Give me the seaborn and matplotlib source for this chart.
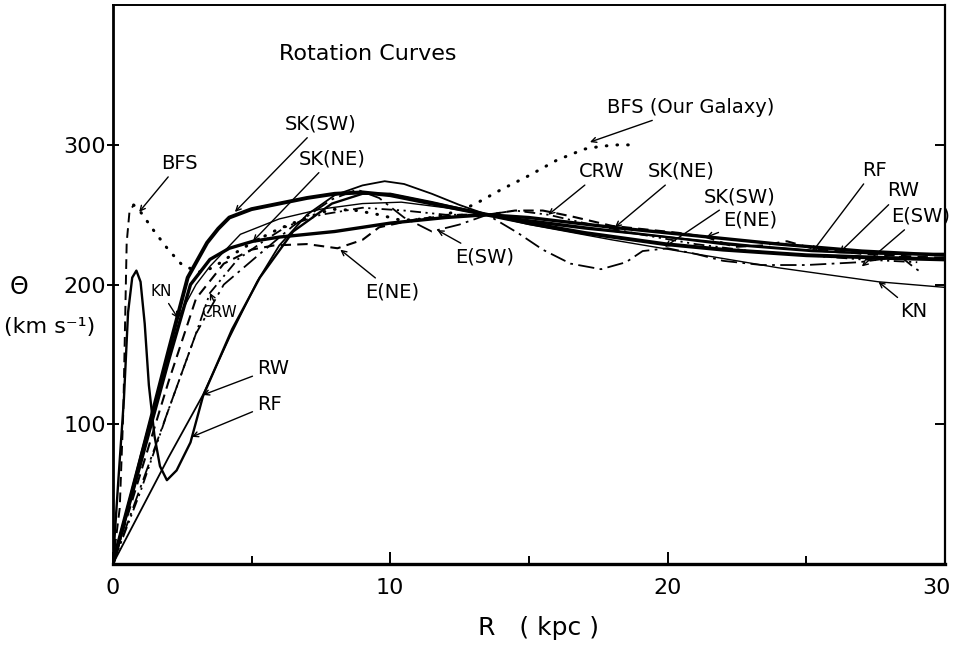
import matplotlib
matplotlib.use("Agg")
import matplotlib.pyplot as plt
import matplotlib.transforms as mtransforms
import seaborn as sns

sns.set_theme(style="white")
plt.rcParams['font.family'] = ['DejaVu Sans']
plt.rcParams['text.color'] = 'black'
plt.rcParams['axes.labelcolor'] = 'black'
plt.rcParams['xtick.color'] = 'black'
plt.rcParams['ytick.color'] = 'black'

# ---------------- data (R in kpc, Theta in km/s) ----------------
sk_sw_r = [0, 1, 2, 2.7, 3.4, 3.8, 4.2, 5, 6, 7, 8, 9, 10, 11, 12, 13.5, 15, 17, 19.9, 22, 25, 28, 30]
sk_sw_v = [0, 75, 152, 205, 230, 240, 248, 254, 258, 262, 265, 266, 264, 260, 256, 250, 244, 237, 229, 225, 221, 219, 218]

sk_ne_r = [0, 1, 2, 2.8, 3.5, 4.2, 5.05, 6, 8, 10, 12, 13.5, 15, 18, 21, 24, 27, 30]
sk_ne_v = [0, 72, 145, 200, 218, 226, 231, 234, 238, 244, 248, 250, 248, 241, 235, 229, 224, 221]

kn_r = [0, 1, 2.35, 3, 3.5, 4.6, 6, 7.5, 9, 10.4, 12, 13.5, 15, 18, 21, 24, 27.6, 30]
kn_v = [0, 78, 176, 200, 213, 236, 247, 254, 258, 259, 255, 250, 243, 232, 222, 212, 202, 198]

rw_r = [0, 1, 2, 3.25, 4.2, 5.2, 6, 7, 8, 9, 9.8, 10.5, 11.5, 12.5, 13.5, 15, 17, 20, 23, 26.2, 28, 30]
rw_v = [0, 38, 76, 121, 162, 202, 228, 250, 264, 271, 274, 272, 265, 257, 250, 245, 240, 234, 228, 223, 222, 221]

rf_r = [0, 0.2, 0.4, 0.55, 0.7, 0.85, 1.0, 1.15, 1.3, 1.5, 1.7, 1.95, 2.3, 2.8, 3.25, 4.3, 5.3,
        6.5, 7.9, 9, 10, 11.5, 13.5, 15, 17, 20, 22, 25.2, 28, 30]
rf_v = [0, 60, 118, 180, 205, 210, 202, 172, 128, 92, 70, 60, 67, 87, 120, 168, 205,
        238, 258, 265, 265, 259, 250, 246, 241, 234, 229, 224, 222, 222]

e_ne_r = [0, 1, 2, 3, 4, 5, 5.8, 7, 8.1, 9, 9.6, 11, 12.5, 13.5, 14.5, 15.5, 16.5, 18, 20.4, 21.4,
          22.4, 23.4, 24.3, 25.2, 27, 30]
e_ne_v = [0, 65, 130, 190, 215, 225, 228, 229, 226, 232, 241, 247, 250, 250, 253, 253, 249, 242, 237, 234,
          227, 228, 231, 226, 222, 219]

e_sw_r = [0, 1, 2, 3, 4, 5.3, 6.5, 7.9, 8.8, 9.6, 10.5, 11.5, 12.5, 13.5, 14.6, 15.5, 16.5, 17.6,
          18.5, 19.1, 20, 21, 22, 23.4, 25, 26.9, 28.4, 28.9, 29.2]
e_sw_v = [0, 55, 110, 165, 200, 222, 242, 261, 268, 262, 248, 238, 243, 250, 237, 225, 215, 211,
          216, 224, 226, 222, 217, 214, 214, 216, 220, 212, 208]

crw_r = [0, 1, 2, 3, 3.5, 4.5, 5.5, 6.3, 7.5, 9, 10.5, 12, 13.5, 14.5, 15.7, 17, 19, 21, 23, 25, 27, 29]
crw_v = [0, 52, 110, 165, 194, 218, 232, 242, 250, 255, 253, 250, 250, 253, 250, 244, 236, 229, 224, 221, 218, 216]

bfs_in_r = [0, 0.25, 0.38, 0.45, 0.5, 0.6, 0.75]
bfs_in_v = [0, 40, 110, 180, 230, 252, 257]

bfs_r = [0.75, 1.0, 1.5, 2.0, 2.5, 3.1, 3.6, 4.2, 5.1, 6.0, 7.0, 7.9, 8.8, 9.6, 10.4, 11.2, 12.0,
         13.0, 14.0, 15.0, 16.0, 17.0, 17.6, 18.2, 18.6]
bfs_v = [257, 252, 238, 225, 214, 209, 212, 220, 231, 240, 248, 254, 253, 250, 246, 247, 250,
         257, 268, 278, 289, 297, 299, 300, 300]

x_ticks = [0, 10, 20, 30]
x_minor = [5, 15, 25]
y_ticks = [100, 200, 300]

# ---------------- figure ----------------
fig = plt.figure(figsize=(9.56, 6.49), dpi=100)
fig.patch.set_facecolor("white")
ax = fig.add_axes([0.118, 0.131, 0.8705, 0.861])
ax.set_facecolor("white")

def draw(r, v, lw, ls="-", cap="butt"):
    sns.lineplot(x=r, y=v, ax=ax, sort=False, estimator=None, color="black",
                 linewidth=lw, linestyle=ls, dash_capstyle=cap, solid_capstyle="round")

draw(sk_sw_r, sk_sw_v, 2.8)
draw(sk_ne_r, sk_ne_v, 2.4)
draw(kn_r, kn_v, 1.0)
draw(rw_r, rw_v, 1.3)
draw(rf_r, rf_v, 1.7)
draw(e_ne_r, e_ne_v, 1.5, (0, (5, 3)))
draw(e_sw_r, e_sw_v, 1.3, (0, (9, 3, 1.5, 3)))
draw(crw_r, crw_v, 1.3, (0, (6, 2.5, 1.2, 2.5, 1.2, 2.5)))
draw(bfs_in_r, bfs_in_v, 1.4, (0, (5, 3)))
draw(bfs_r, bfs_v, 2.2, (0, (0.2, 3.3)), cap="round")

ax.set_xlim(0, 30)
ax.set_ylim(0, 400)
ax.set_xlabel("")
ax.set_ylabel("")
ax.set_xticks(x_ticks)
ax.set_xticks(x_minor, minor=True)
ax.set_yticks(y_ticks)
ax.set_xticklabels([str(t) for t in x_ticks])
ax.set_yticklabels([str(t) for t in y_ticks])

for s in ["left", "bottom", "right", "top"]:
    ax.spines[s].set_visible(True)
    ax.spines[s].set_color("black")
ax.spines["left"].set_linewidth(2.0)
ax.spines["bottom"].set_linewidth(2.4)
ax.spines["right"].set_linewidth(1.6)
ax.spines["top"].set_linewidth(1.4)

ax.tick_params(axis="x", which="major", direction="in", length=9, width=1.4,
               labelsize=16, pad=10, top=False, bottom=True, labelcolor="black")
ax.tick_params(axis="x", which="minor", direction="in", length=6, width=1.4,
               top=False, bottom=True)
ax.tick_params(axis="y", which="major", direction="inout", length=8, width=1.4,
               labelsize=16, pad=1, left=True, right=False, labelcolor="black")

# last x label sits slightly left, as in the reference
lbls = ax.get_xticklabels()
lbls[-1].set_transform(lbls[-1].get_transform() +
                       mtransforms.ScaledTranslation(-9 / 100, 0, fig.dpi_scale_trans))

ax2 = ax.twinx()
ax2.set_ylim(0, 400)
ax2.set_yticks(y_ticks)
ax2.tick_params(axis="y", direction="in", length=7, width=1.4, labelright=False, right=True)
for s in ax2.spines.values():
    s.set_visible(False)

# ---------------- text ----------------
ax.text(6.0, 365, "Rotation Curves", fontsize=16, ha="left", va="center")

labels = [
    ("SK(SW)", (6.2, 315), (4.4, 252), 14),
    ("SK(NE)", (6.7, 290), (5.05, 231), 14),
    ("BFS", (1.75, 287), (0.95, 252), 14),
    ("KN", (1.35, 195), (2.35, 176), 11),
    ("CRW", (3.2, 180), (3.5, 194), 11),
    ("RW", (5.2, 140), (3.25, 121), 14),
    ("RF", (5.2, 114), (2.85, 91), 14),
    ("E(NE)", (9.1, 195), (8.2, 225), 14),
    ("E(SW)", (12.35, 220), (11.7, 239), 14),
    ("CRW", (16.8, 281), (15.7, 250), 14),
    ("SK(NE)", (19.3, 281), (18.1, 241), 14),
    ("SK(SW)", (21.3, 263), (19.9, 227), 14),
    ("E(NE)", (22.0, 246), (21.4, 234), 14),
    ("BFS (Our Galaxy)", (17.8, 327), (17.2, 302), 14),
    ("RF", (27.0, 282), (25.2, 223), 14),
    ("RW", (27.9, 267), (26.2, 223), 14),
    ("E(SW)", (28.05, 249), (27.0, 213), 14),
    ("KN", (28.4, 181), (27.6, 202), 14),
]
for txt, txy, tip, fs in labels:
    ax.annotate(txt, xy=tip, xytext=txy, ha="left", va="center", fontsize=fs,
                color="black", annotation_clip=False,
                arrowprops=dict(arrowstyle="->", lw=1.0, color="black",
                                shrinkA=1, shrinkB=0, mutation_scale=9))

fig.text(19 / 956, 1 - 287 / 649, "Θ", fontsize=17, ha="center", va="center")
fig.text(50 / 956, 1 - 327 / 649, "(km s⁻¹)", fontsize=16, ha="center", va="center")
fig.text(538 / 956, 1 - 628 / 649, "R   ( kpc )", fontsize=18, ha="center", va="center")

fig.savefig("out.png", dpi=100, facecolor="white")
